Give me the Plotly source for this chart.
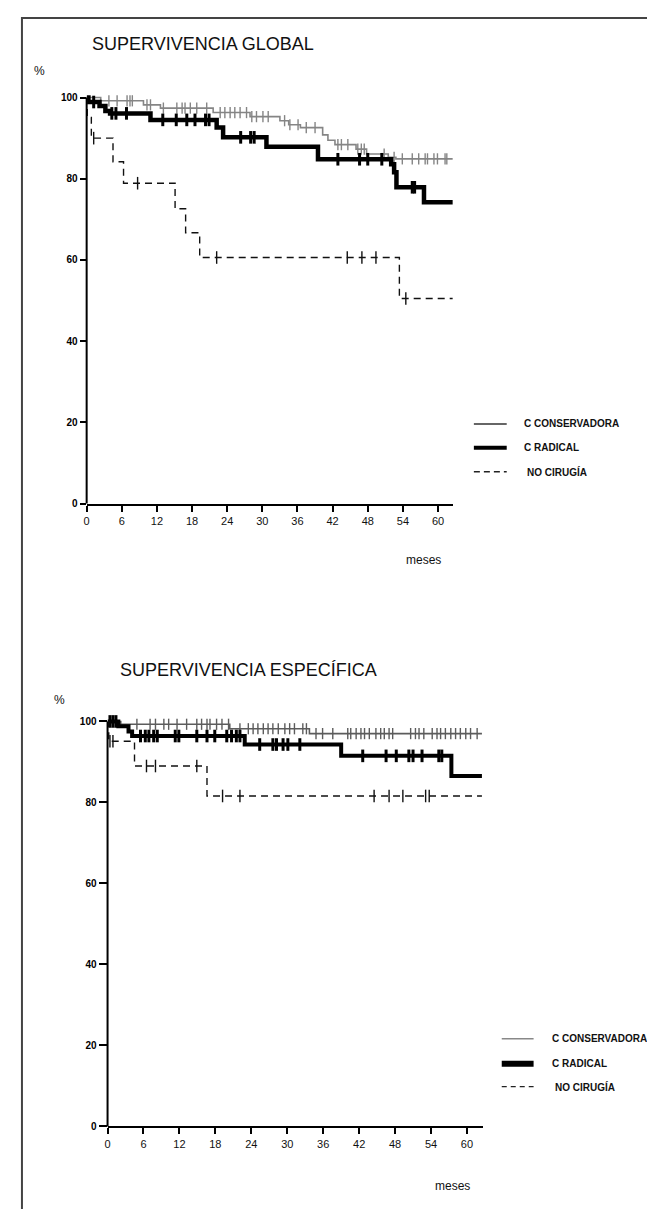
import numpy as np
import plotly.graph_objects as go

W, H = 655, 1209
FONT = "Liberation Sans, Arial, sans-serif"

# ---------------- DATA ----------------
month_ticks = [0, 6, 12, 18, 24, 30, 36, 42, 48, 54, 60]
pct_ticks = [0, 20, 40, 60, 80, 100]
series_names = ["C CONSERVADORA", "C RADICAL", "NO CIRUGÍA"]

# Global survival (top)
g_cons_t = [0, 2.4, 9.7, 12.6, 21.6, 27.9, 33.0, 34.5, 36.5, 40.3, 41.2, 42.4, 46.0, 47.8, 51.5, 52.8]
g_cons_s = [100, 99.2, 98.2, 97.4, 96.3, 95.3, 94.3, 93.3, 92.6, 90.8, 89.5, 88.4, 87.3, 86.1, 85.3, 84.9]
g_cons_cens = [3.8, 5.2, 6.9, 7.4, 7.8, 10.3, 10.9, 13.1, 15.4, 16.3, 16.8, 17.7, 18.8, 20.5,
               22.8, 23.6, 24.5, 25.3, 26.2, 27.3, 28.2, 29.0, 30.1, 31.0, 33.8, 34.7, 36.1,
               37.5, 39.0, 42.9, 43.5, 44.6, 46.3, 46.9, 47.4, 50.8, 52.5, 53.9, 55.6, 56.7,
               57.8, 58.2, 59.3, 59.9, 61.2, 61.5]
g_rad_t = [0, 0.3, 2.2, 3.2, 4.0, 10.9, 22.2, 23.3, 30.7, 39.5, 52.0, 52.5, 52.9, 57.6]
g_rad_s = [100, 98.9, 97.9, 96.7, 96.1, 94.5, 92.6, 90.2, 87.9, 84.8, 83.6, 81.6, 77.9, 74.2]
g_rad_cens = [1.2, 4.3, 5.0, 6.8, 13.0, 15.3, 17.1, 18.5, 20.3, 20.9, 26.3, 28.0, 28.6,
              42.9, 46.6, 48.0, 50.4, 55.6, 56.0]
g_noc_t = [0, 0.1, 0.8, 4.5, 6.3, 15.1, 16.9, 19.3, 53.4]
g_noc_s = [100, 95.1, 90.0, 84.2, 78.9, 72.6, 66.7, 60.6, 50.5]
g_noc_cens = [1.2, 8.7, 22.2, 44.5, 47.0, 49.4, 54.5]
g_end = 62.5

# Specific survival (bottom)
e_cons_t = [0, 2.2, 20.4, 33.7]
e_cons_s = [100, 99.3, 98.2, 97.0]
e_cons_cens = [4.9, 7.1, 8.0, 9.4, 10.2, 11.6, 13.2, 14.9, 15.7, 16.6, 17.1, 18.2, 19.1, 20.2,
               22.1, 23.5, 24.3, 25.1, 26.0, 26.8, 27.6, 28.5, 29.6, 30.4, 31.2, 32.6, 33.2,
               34.8, 35.9, 37.6, 40.1, 40.6, 41.5, 42.3, 42.9, 43.7, 44.8, 45.6, 46.2, 47.0,
               47.6, 50.6, 51.4, 52.0, 52.8, 54.2, 55.0, 55.6, 56.4, 57.3, 58.1, 58.9, 59.8,
               60.6, 61.7]
e_rad_t = [0, 1.8, 3.5, 4.1, 22.9, 39.0, 57.4]
e_rad_s = [100, 98.8, 97.5, 96.4, 94.3, 91.5, 86.5]
e_rad_cens = [0.4, 0.9, 1.4, 5.5, 6.3, 6.9, 7.7, 8.3, 11.3, 11.9, 14.9, 16.6, 17.9, 19.9,
              20.7, 21.5, 22.1, 25.4, 27.6, 28.2, 29.3, 30.1, 32.1, 42.6, 46.5, 48.2,
              50.3, 51.0, 52.5, 55.3, 55.8]
e_noc_t = [0, 0.2, 4.5, 16.6]
e_noc_s = [100, 95.1, 89.0, 81.6]
e_noc_cens = [0.4, 0.9, 6.5, 8.0, 14.9, 19.2, 22.1, 44.5, 47.0, 49.3, 53.1, 53.7]
e_end = 62.5


def px(x):
    return x / W


def py(y):
    return 1 - y / H


def step_at(times, vals, cens):
    idx = np.searchsorted(np.array(times), np.array(cens), side="right") - 1
    return [vals[i] for i in idx]


fig = go.Figure()

panels = [
    dict(xa="x", ya="y", x0=76, x1=444, y0=498, y100=90,
         data=[(g_cons_t, g_cons_s, g_cons_cens, g_end),
               (g_rad_t, g_rad_s, g_rad_cens, g_end),
               (g_noc_t, g_noc_s, g_noc_cens, g_end)],
         cons_col="#858585", rad_w=4.5, ticklen_y=6, xlab_std=4),
    dict(xa="x2", ya="y2", x0=97, x1=474, y0=1124, y100=717,
         data=[(e_cons_t, e_cons_s, e_cons_cens, e_end),
               (e_rad_t, e_rad_s, e_rad_cens, e_end),
               (e_noc_t, e_noc_s, e_noc_cens, e_end)],
         cons_col="#5c5c5c", rad_w=4, ticklen_y=8, xlab_std=8),
]

YMAX = 102
layout_axes = {}
shapes = []
for k, p in enumerate(panels):
    per = (p["y0"] - p["y100"]) / 100.0
    ytop = p["y0"] - YMAX * per
    xmax = (p["x1"] - p["x0"]) / ((p["x1"] - p["x0"]) / 62.55) if k == 0 else 62.65
    styles = [
        dict(color=p["cons_col"], width=1.6, dash="solid", msize=8, mw=1.4),
        dict(color="#000000", width=p["rad_w"], dash="solid", msize=9, mw=3),
        dict(color="#111111", width=1.4, dash="7px,5px", msize=9, mw=1.4),
    ]
    for (t, s, c, end), st, nm in zip(p["data"], styles, series_names):
        fig.add_trace(go.Scatter(
            x=list(t) + [end], y=list(s) + [s[-1]], mode="lines",
            line=dict(color=st["color"], width=st["width"], dash=st["dash"], shape="hv"),
            xaxis=p["xa"], yaxis=p["ya"], showlegend=False, name=nm, hoverinfo="skip"))
        fig.add_trace(go.Scatter(
            x=c, y=step_at(t, s, c), mode="markers",
            marker=dict(symbol="line-ns", size=st["msize"],
                        line=dict(color=st["color"], width=st["mw"])),
            xaxis=p["xa"], yaxis=p["ya"], showlegend=False, cliponaxis=False,
            hoverinfo="skip"))
    suffix = "" if k == 0 else "2"
    layout_axes["xaxis" + suffix] = dict(
        domain=[px(p["x0"]), px(p["x1"])], range=[0, xmax],
        anchor="y" + suffix, tickvals=month_ticks, ticks="outside", ticklen=6,
        tickwidth=1.5, tickcolor="#000", showline=True, linewidth=2, linecolor="#000",
        showgrid=False, zeroline=False, fixedrange=True,
        tickfont=dict(family=FONT, size=11, color="#111"))
    layout_axes["yaxis" + suffix] = dict(
        domain=[py(p["y0"]), py(ytop)], range=[0, YMAX],
        anchor="x" + suffix, tickvals=pct_ticks, ticks="outside", ticklen=p["ticklen_y"],
        tickwidth=1.5, tickcolor="#000", showline=False, showgrid=False, zeroline=False,
        fixedrange=True,
        tickfont=dict(family="Liberation Sans, Arial", size=10, color="#000", weight="bold"))
    # y axis line from 0 to 100
    shapes.append(dict(type="line", xref="paper", yref="paper",
                       x0=px(p["x0"]), x1=px(p["x0"]), y0=py(p["y0"]), y1=py(p["y100"]),
                       line=dict(color="#000", width=2)))

# frame
shapes.append(dict(type="rect", xref="paper", yref="paper",
                   x0=px(11), x1=px(650), y0=py(1230), y1=py(10),
                   line=dict(color="#444", width=2)))

annotations = []


def txt(x, y, s, size, anchor="left", bold=False):
    annotations.append(dict(
        xref="paper", yref="paper", x=px(x), y=py(y), text=s, showarrow=False,
        xanchor=anchor, yanchor="middle",
        font=dict(family=FONT, size=size, color="#111", weight="bold" if bold else "normal")))


txt(79, 36, "SUPERVIVENCIA GLOBAL", 18)
txt(21, 63, "%", 12)
txt(414, 555, "meses", 12, "center")
txt(107, 665, "SUPERVIVENCIA ESPECÍFICA", 18)
txt(41, 695, "%", 12)
txt(444, 1184, "meses", 12, "center")

# legends
legs = [
    dict(lx0=465, lx1=498, tx=513, rows=[418, 442, 466], cons="#333333", radw=4,
         dash="6px,4px"),
    dict(lx0=493, lx1=525, tx=541, rows=[1036, 1061, 1084], cons="#888888", radw=6,
         dash="5px,4px"),
]
for L in legs:
    st = [dict(color=L["cons"], width=1.5, dash="solid"),
          dict(color="#000", width=L["radw"], dash="solid"),
          dict(color="#222", width=1.4, dash=L["dash"])]
    for r, s, nm in zip(L["rows"], st, series_names):
        shapes.append(dict(type="line", xref="paper", yref="paper",
                           x0=px(L["lx0"]), x1=px(L["lx1"]), y0=py(r), y1=py(r),
                           line=s))
        off = 3 if nm == "NO CIRUGÍA" else 0
        txt(L["tx"] + off, r, nm, 10, bold=True)

fig.update_layout(
    width=W, height=H, margin=dict(l=0, r=0, t=0, b=0),
    paper_bgcolor="#ffffff", plot_bgcolor="#ffffff", showlegend=False,
    shapes=shapes, annotations=annotations, **layout_axes)

fig.write_html("out.html")
